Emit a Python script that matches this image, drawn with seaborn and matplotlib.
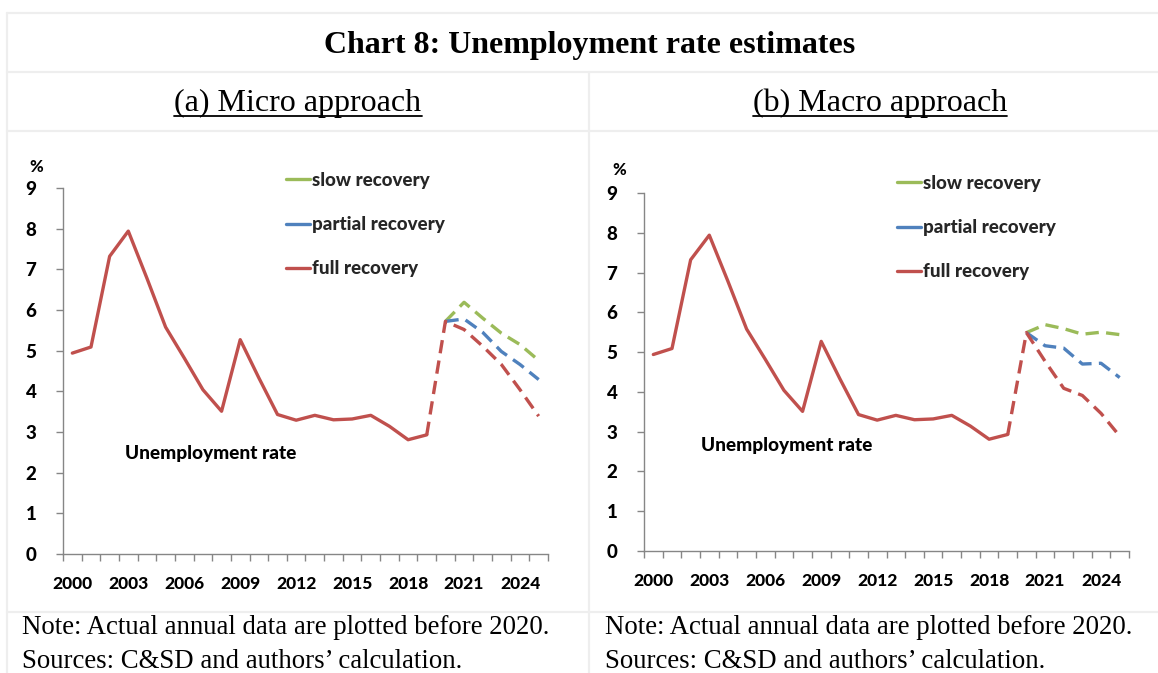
import numpy as np
import pandas as pd
import matplotlib
matplotlib.use('Agg')
import matplotlib.pyplot as plt
from matplotlib.lines import Line2D
from matplotlib.ticker import FixedLocator, NullFormatter
import seaborn as sns

# Data
years_hist = list(range(2000, 2020))
rate_hist = [4.94, 5.09, 7.32, 7.94, 6.78, 5.58, 4.82, 4.04, 3.51, 5.27,
             4.33, 3.43, 3.29, 3.41, 3.30, 3.32, 3.41, 3.14, 2.81, 2.93]

years_fc = list(range(2020, 2026))
# (a) Micro approach
micro_slow = [5.72, 6.19, 5.80, 5.43, 5.15, 4.76]
micro_partial = [5.72, 5.78, 5.45, 4.98, 4.66, 4.29]
micro_full = [5.72, 5.52, 5.11, 4.66, 4.04, 3.39]
# (b) Macro approach
macro_slow = [5.49, 5.69, 5.59, 5.45, 5.50, 5.44]
macro_partial = [5.49, 5.16, 5.10, 4.70, 4.72, 4.36]
macro_full = [5.49, 4.77, 4.09, 3.91, 3.46, 2.89]

xtick_years = list(range(2000, 2025, 3))
yticks = list(range(0, 10))
scenarios = ['slow recovery', 'partial recovery', 'full recovery']
colors = {'slow recovery': '#9BBB59', 'partial recovery': '#4F81BD', 'full recovery': '#C0504D'}

W, H = 1158, 673
sns.set_theme(style="white")
plt.rcParams['font.family'] = ['Lato', 'DejaVu Sans']
fig = plt.figure(figsize=(W / 100, H / 100), dpi=100)
heavy = 900


def fx(px):
    return px / W


def fy(py):
    return 1 - py / H


# table grid
grid_col = '#EEEEEE'
for yy in [13, 72, 131, 612]:
    fig.add_artist(Line2D([fx(7), 1], [fy(yy), fy(yy)], color=grid_col, lw=1.6))
fig.add_artist(Line2D([fx(7), fx(7)], [fy(13), 0], color=grid_col, lw=1.6))
fig.add_artist(Line2D([fx(589), fx(589)], [fy(72), 0], color=grid_col, lw=1.6))

serif = 'Liberation Serif'
fig.text(fx(590), fy(45), 'Chart 8: Unemployment rate estimates', family=serif,
         fontsize=23, fontweight='bold', ha='center', va='center', color='black')
subs = []
subs.append(fig.text(fx(298), fy(103), '(a) Micro approach', family=serif,
                     fontsize=23, ha='center', va='center', color='black'))
subs.append(fig.text(fx(880), fy(103), '(b) Macro approach', family=serif,
                     fontsize=23, ha='center', va='center', color='black'))
for x0 in [22, 605]:
    fig.text(fx(x0), fy(628), 'Note: Actual annual data are plotted before 2020.',
             family=serif, fontsize=19.3, ha='left', va='center', color='black')
    fig.text(fx(x0), fy(661), 'Sources: C&SD and authors\u2019 calculation.',
             family=serif, fontsize=19.3, ha='left', va='center', color='black')

panels = [
    dict(box=(63, 548, 188, 554), slow=micro_slow, partial=micro_partial, full=micro_full,
         pct=(29, 167), leg=(286, 172), label=(125, 453)),
    dict(box=(644, 1129, 193, 551), slow=macro_slow, partial=macro_partial, full=macro_full,
         pct=(612, 170), leg=(897, 175), label=(701, 445)),
]

dash = (4, 2.2)
lw = 2.4
for p in panels:
    l, r, t, b = p['box']
    ax = fig.add_axes([fx(l), fy(b), fx(r - l), fy(t) - fy(b)])
    fc = pd.DataFrame({'year': years_fc, 'slow recovery': p['slow'],
                       'partial recovery': p['partial'], 'full recovery': p['full']})
    for s in ['slow recovery', 'partial recovery']:
        sns.lineplot(data=fc, x='year', y=s, ax=ax, color=colors[s], lw=lw,
                     dashes=False, linestyle=(0, dash))
    full_df = pd.DataFrame({'year': [years_hist[-1]] + years_fc,
                            'rate': [rate_hist[-1]] + p['full']})
    sns.lineplot(data=full_df, x='year', y='rate', ax=ax, color=colors['full recovery'],
                 lw=lw, linestyle=(0, dash))
    hist_df = pd.DataFrame({'year': years_hist, 'rate': rate_hist})
    sns.lineplot(data=hist_df, x='year', y='rate', ax=ax, color=colors['full recovery'], lw=lw)

    ax.set_xlim(1999.5, 2025.5)
    ax.set_ylim(0, 9)
    ax.set_xlabel('')
    ax.set_ylabel('')
    ax.set_xticks(xtick_years)
    ax.set_xticklabels([str(y) for y in xtick_years])
    ax.xaxis.set_minor_locator(FixedLocator(np.arange(1999.5, 2026, 1)))
    ax.xaxis.set_minor_formatter(NullFormatter())
    ax.tick_params(axis='x', which='major', length=0, pad=16, labelsize=12.5,
                   labelcolor='black')
    ax.tick_params(axis='x', which='minor', length=5, width=1, color='#868686',
                   direction='out', bottom=True)
    ax.set_yticks(yticks)
    ax.tick_params(axis='y', length=5, width=1, color='#868686', direction='out',
                   pad=14, labelsize=13.5, labelcolor='black', left=True)
    for lab in ax.get_xticklabels() + ax.get_yticklabels():
        lab.set_fontweight(heavy)
    for side in ['top', 'right']:
        ax.spines[side].set_visible(False)
    for side in ['left', 'bottom']:
        ax.spines[side].set_color('#868686')
        ax.spines[side].set_linewidth(1)
    ax.set_facecolor('none')

    handles = [Line2D([], [], color=colors[s], lw=lw) for s in scenarios]
    fig.legend(handles, scenarios, loc='upper left',
               bbox_to_anchor=(fx(p['leg'][0]), fy(p['leg'][1])),
               frameon=False, borderpad=0, borderaxespad=0, handlelength=1.3,
               handletextpad=0.1, labelspacing=1.45,
               prop=dict(family='Lato', weight=heavy, size=13.5))
    fig.text(fx(p['pct'][0]), fy(p['pct'][1]), '%', fontsize=12, fontweight=heavy,
             ha='left', va='center', color='black')
    fig.text(fx(p['label'][0]), fy(p['label'][1]), 'Unemployment rate', fontsize=13.7,
             fontweight=heavy, ha='left', va='center', color='black')

# underline the panel subtitles
fig.canvas.draw()
renderer = fig.canvas.get_renderer()
for t in subs:
    bb = t.get_window_extent(renderer).transformed(fig.transFigure.inverted())
    fig.add_artist(Line2D([bb.x0, bb.x1], [bb.y0 + 0.003, bb.y0 + 0.003],
                          color='black', lw=1.3))

fig.savefig('out.png', dpi=100, facecolor='white')
